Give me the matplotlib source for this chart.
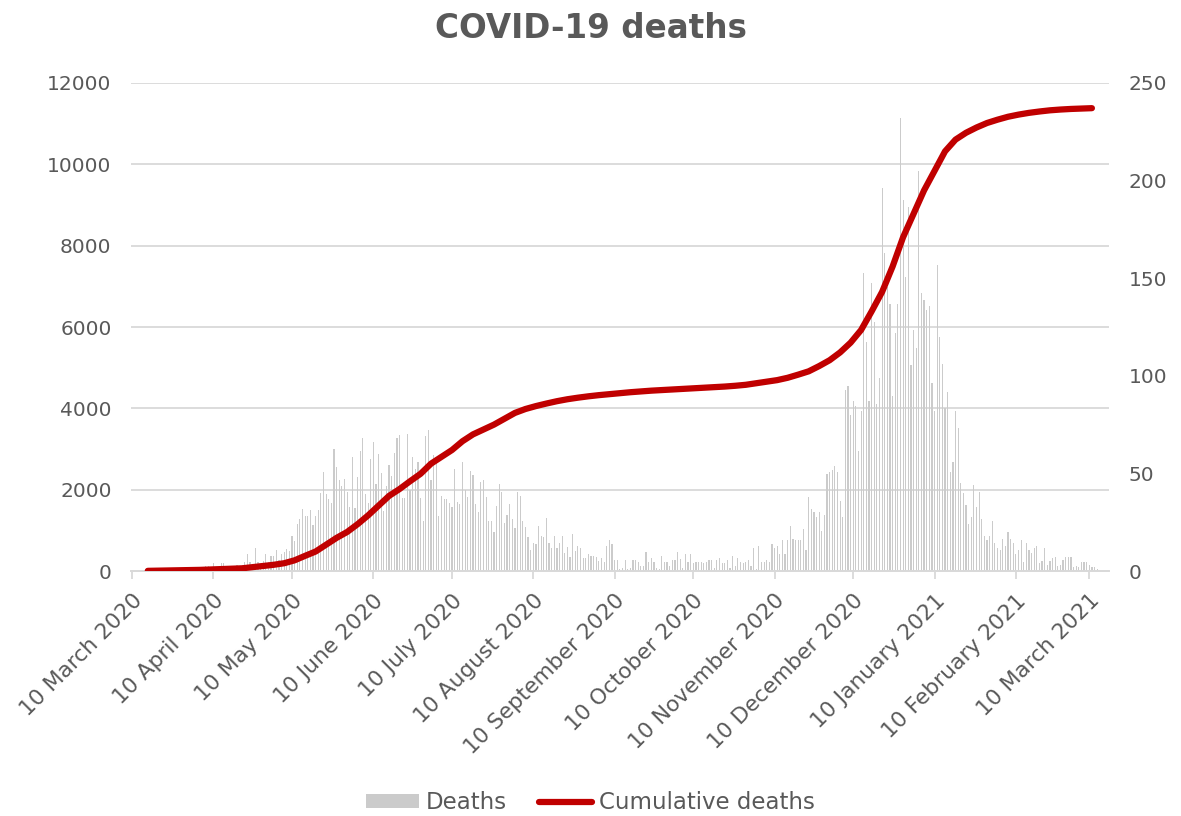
import matplotlib
matplotlib.use("Agg")
import matplotlib.pyplot as plt
import matplotlib.dates as mdates
import pandas as pd
from matplotlib.lines import Line2D
from matplotlib.patches import Patch

# daily deaths, one value per day from 16 March 2020
first_day = "2020-03-16"
deaths = [
    3, 5, 8, 10, 14, 20, 25, 30, 40, 45, 55, 60, 70, 80, 75, 90, 95, 100, 80, 110, 100, 90, 120,
    130, 70, 200, 90, 110, 200, 200, 90, 100, 120, 110, 140, 130, 150, 230, 420, 230, 150, 560,
    230, 180, 250, 420, 230, 360, 360, 510, 280, 420,
    470, 540, 500, 860, 740, 1160, 1270, 1530, 1350, 1350, 1490, 1120, 1350, 1500,
    1930, 2440, 1890, 1780, 1680, 2990, 2560, 2230, 2090, 2270, 1940, 1580, 2800, 1560, 2310,
    2940, 3260, 1890, 1680, 2750, 3170, 2130, 2870, 2420, 1480, 2090, 2610, 2340, 2910, 3280, 3340,
    1790, 1790, 3380, 2000, 2800, 2500, 2670, 1790, 1230, 3320, 3470, 2230, 2850, 2750, 1350,
    1850, 1760, 1760, 1680, 1580, 2500, 1700, 1640, 2670, 2000, 1830, 2460, 2350, 1660, 1450,
    2180, 2250, 1830, 1220, 1220, 970, 1600, 2130, 1940, 1170, 1390, 1640, 1270, 1070, 1940, 1850,
    1240, 1090, 840, 520, 700, 660, 1110, 860, 830, 1300, 700, 560, 870, 560, 700, 870, 450,
    600, 350, 900, 500, 615, 560, 330, 330, 430, 380, 380, 350, 250, 330, 230, 615, 760,
    660, 270, 270, 40, 80, 270, 40, 80, 270, 270, 230, 130, 130, 460, 230, 310, 230, 80, 40, 370,
    230, 230, 130, 270, 270, 460, 290, 80, 420, 230, 420, 190, 230, 230, 230, 190, 230, 270, 270, 80,
    270, 310, 190, 190, 270, 80, 370, 130, 310, 230, 190, 230, 270, 130, 560, 40, 615, 230, 230, 270,
    230, 660, 560, 615, 420, 760, 420, 760, 1110, 800, 760, 760, 760, 1030, 520, 1810, 1530, 1440,
    1340, 1460, 990, 1380, 2380, 2440, 2490, 2580, 2440, 1720, 1340,
    4450, 4550, 3840, 4170, 4060, 2940, 3940, 7340, 5620, 4170, 7090, 6130, 4110, 4740, 9410,
    7810, 6990, 6570, 4300, 5850, 6570, 11140, 9130, 7240, 8960, 5070, 5930, 5480, 9840, 6830,
    6670, 6420, 6520, 4620, 3940,
    7530, 5760, 5090, 4000, 4410, 2440, 2690, 3940, 3510, 2160, 1910, 1620, 1160, 1340, 2120,
    1580, 1950, 1280, 860, 760, 860, 1240, 700, 570, 520, 800, 610, 950, 800, 700, 430, 520, 760,
    230, 700, 520, 450, 560, 610, 190, 250, 560, 150, 250, 310, 340, 130, 150, 270, 340, 340, 340,
    110, 130, 90, 230, 230, 230, 150, 110, 90, 40,
]

# cumulative deaths (right axis), one value every 4 days from 16 March 2020
cum_first_day = "2020-03-16"
cumulative = [
    0.1, 0.2, 0.3, 0.4, 0.5, 0.6, 0.8, 1.0, 1.2, 1.4, 2.0, 2.6, 3.2, 4.0, 5.5, 7.8, 10.0, 13.5,
    17.0, 20.0, 24.0, 28.5, 33.5, 38.5, 42.0, 46.0, 49.8, 55.0, 58.5, 62.0, 66.5, 70.0, 72.5,
    75.0, 78.0, 81.0, 83.0, 84.5, 85.8, 87.0, 88.0, 88.8, 89.5, 90.1, 90.6, 91.1, 91.6, 92.0,
    92.4, 92.7, 93.0, 93.3, 93.6, 93.9, 94.2, 94.5, 94.9, 95.4, 96.2, 97.0, 97.8, 99.0, 100.6,
    102.3, 105.0, 108.0, 112.0, 117.0, 123.5, 133.0, 143.0, 156.0, 171.0, 183.0, 195.0, 205.0,
    215.0, 221.0, 224.5, 227.2, 229.5, 231.2, 232.7, 233.8, 234.7, 235.4, 236.0, 236.4, 236.7,
    236.9, 237.1,
]

tick_dates = ["2020-03-10", "2020-04-10", "2020-05-10", "2020-06-10", "2020-07-10",
              "2020-08-10", "2020-09-10", "2020-10-10", "2020-11-10", "2020-12-10",
              "2021-01-10", "2021-02-10", "2021-03-10"]
tick_labels = ["10 March 2020", "10 April 2020", "10 May 2020", "10 June 2020", "10 July 2020",
               "10 August 2020", "10 September 2020", "10 October 2020", "10 November 2020",
               "10 December 2020", "10 January 2021", "10 February 2021", "10 March 2021"]

text_col = "#595959"
grid_col = "#d9d9d9"
bar_col = "#cbcbcb"
line_col = "#c00000"

plt.rcParams["font.family"] = ["DejaVu Sans"]

days = pd.date_range(first_day, periods=len(deaths), freq="D")
cum_days = pd.date_range(cum_first_day, periods=len(cumulative), freq="4D")

fig = plt.figure(figsize=(11.81, 8.16), dpi=100)
ax = fig.add_axes([0.1109, 0.3002, 0.939 - 0.1109, 0.8983 - 0.3002])
ax2 = ax.twinx()

ax.bar(days, deaths, width=0.45, color=bar_col, zorder=2)
ax2.plot(cum_days, cumulative, color=line_col, lw=4.5, solid_capstyle="round",
         solid_joinstyle="round", zorder=3)

ax.set_ylim(0, 12000)
ax.set_yticks(range(0, 12001, 2000))
ax2.set_ylim(0, 250)
ax2.set_yticks(range(0, 251, 50))
ax.yaxis.grid(True, color=grid_col, lw=1.3, zorder=0)
ax.set_axisbelow(True)

xmin = mdates.date2num(pd.Timestamp("2020-03-09 14:00"))
xmax = mdates.date2num(pd.Timestamp("2021-03-17 12:00"))
ax.set_xlim(xmin, xmax)
ax.set_xticks([mdates.date2num(pd.Timestamp(d)) for d in tick_dates])
ax.set_xticklabels(tick_labels, rotation=45, ha="right", rotation_mode="anchor")

for a in (ax, ax2):
    for s in ("top", "left", "right"):
        a.spines[s].set_visible(False)
    a.spines["bottom"].set_color(grid_col)
    a.spines["bottom"].set_linewidth(1.3)
ax.tick_params(axis="x", colors=grid_col, length=6, width=1.3, labelcolor=text_col,
               labelsize=15.7, pad=8)
ax.tick_params(axis="y", length=0, labelcolor=text_col, labelsize=14.5, pad=14)
ax2.tick_params(axis="y", length=0, labelcolor=text_col, labelsize=14.5, pad=14)

fig.text(0.5, 0.965, "COVID-19 deaths", ha="center", va="center", fontsize=23.5,
         fontweight="bold", color=text_col)

handles = [Patch(facecolor=bar_col, edgecolor="none"),
           Line2D([0], [0], color=line_col, lw=4.5, solid_capstyle="round")]
fig.legend(handles, ["Deaths", "Cumulative deaths"], loc="center", bbox_to_anchor=(0.5, 0.016),
           ncol=2, frameon=False, fontsize=16.5, labelcolor=text_col, handlelength=2.3,
           handleheight=0.55, handletextpad=0.3, columnspacing=1.4)

fig.savefig("out.png", dpi=100)
